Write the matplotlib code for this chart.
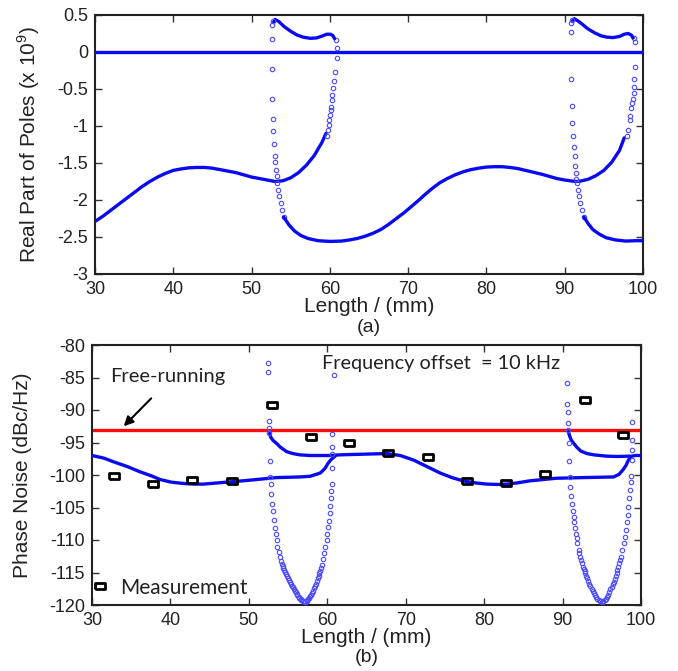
import matplotlib
matplotlib.use("Agg")
import matplotlib.pyplot as plt
from matplotlib.ticker import FormatStrFormatter, MultipleLocator

plt.rcParams["font.family"] = ["Liberation Sans", "DejaVu Sans"]
plt.rcParams["mathtext.fontset"] = "custom"
plt.rcParams["mathtext.rm"] = "Liberation Sans"
plt.rcParams["axes.unicode_minus"] = False

# =========================
# (a) real part of poles (x 1e9)
# =========================

# zero line (dense markers)
zero_x = [30, 100]
zero_y = [0, 0]

# lower-left branch, dense part
a_low1_x = [30, 31, 32, 33, 34, 35, 36, 37, 38, 39, 40, 41, 42, 43, 44, 45, 46, 47, 48, 49,
            50, 51, 52, 53, 54, 55, 56, 57, 58, 59, 59.5]
a_low1_y = [-2.29, -2.22, -2.14, -2.06, -1.98, -1.90, -1.82, -1.75, -1.69, -1.64, -1.60,
            -1.58, -1.565, -1.56, -1.56, -1.57, -1.59, -1.61, -1.63, -1.66, -1.69, -1.71,
            -1.73, -1.75, -1.74, -1.70, -1.63, -1.53, -1.40, -1.22, -1.10]
# rising sparse part near 60 mm
a_rise1_x = [59.6, 59.75, 59.85, 59.9, 60.0, 60.1, 60.15, 60.25, 60.33, 60.42, 60.5, 60.67,
             60.85, 60.85, 60.75]
a_rise1_y = [-1.14, -1.05, -0.99, -0.92, -0.85, -0.78, -0.74, -0.65, -0.58, -0.49, -0.39,
             -0.27, -0.08, 0.05, 0.16]
# upper small arc 1
a_up1_x = [52.8, 53.0, 53.5, 54.2, 55, 55.8, 56.6, 57.5, 58.3, 59.0, 59.6, 60.1, 60.4, 60.6]
a_up1_y = [0.40, 0.44, 0.41, 0.34, 0.28, 0.23, 0.20, 0.185, 0.19, 0.215, 0.24, 0.24, 0.22, 0.18]
# falling sparse part near 52.6 mm
a_fall1_x = [52.75, 52.65, 52.55, 52.55, 52.6, 52.7, 52.8, 52.9, 52.95, 53.0, 53.1, 53.2,
             53.3, 53.4, 53.55, 53.7, 53.9, 54.1]
a_fall1_y = [0.42, 0.37, 0.17, -0.23, -0.64, -0.9, -1.07, -1.24, -1.40, -1.49, -1.59, -1.67,
             -1.77, -1.86, -1.95, -2.04, -2.14, -2.23]
# long lower branch from 54 to 97.6 mm
a_low2_x = [54.1, 54.8, 55.5, 56.3, 57.2, 58.5, 60, 61.5, 62.5, 63.5, 64.5, 65.5, 66.5, 67.5,
            68.5, 69.5, 70.5, 71.5, 72, 73, 74, 75, 76, 77, 78, 79, 80, 81, 82, 83, 84, 85,
            86, 87, 88, 89, 90, 91, 91.5, 92, 93, 94, 95, 96, 97, 97.6]
a_low2_y = [-2.23, -2.34, -2.42, -2.48, -2.52, -2.55, -2.56, -2.555, -2.54, -2.52, -2.49,
            -2.45, -2.40, -2.33, -2.25, -2.17, -2.08, -1.99, -1.94, -1.85, -1.77, -1.71,
            -1.66, -1.62, -1.59, -1.57, -1.555, -1.55, -1.55, -1.56, -1.575, -1.60, -1.625,
            -1.65, -1.68, -1.71, -1.73, -1.745, -1.75, -1.745, -1.72, -1.67, -1.60, -1.49,
            -1.33, -1.16]
a_rise2_x = [97.9, 98.1, 98.3, 98.4, 98.5, 98.6, 98.7, 98.8, 98.85, 98.9, 98.97, 98.97, 98.8]
a_rise2_y = [-1.14, -1.05, -0.92, -0.86, -0.76, -0.69, -0.64, -0.56, -0.47, -0.36, -0.2,
             0.14, 0.185]
a_up2_x = [91.0, 91.2, 91.7, 92.3, 93, 93.8, 94.6, 95.4, 96.2, 97, 97.6, 98.1, 98.5, 98.75]
a_up2_y = [0.42, 0.45, 0.42, 0.37, 0.31, 0.26, 0.22, 0.20, 0.195, 0.21, 0.24, 0.25, 0.23, 0.19]
a_fall2_x = [90.9, 90.75, 90.75, 90.75, 90.9, 90.97, 91.1, 91.2, 91.27, 91.35, 91.4, 91.5,
             91.6, 91.7, 91.85, 92.0, 92.2, 92.45]
a_fall2_y = [0.43, 0.39, 0.27, -0.37, -0.73, -0.96, -1.14, -1.29, -1.41, -1.54, -1.63, -1.71,
             -1.77, -1.86, -1.95, -2.04, -2.14, -2.23]
a_low3_x = [92.45, 93.0, 93.6, 94.4, 95.3, 96.5, 97.8, 99, 100]
a_low3_y = [-2.23, -2.32, -2.40, -2.46, -2.51, -2.54, -2.555, -2.55, -2.55]

# =========================
# (b) phase noise (dBc/Hz)
# =========================
free_running = -93.0

b_low1_x = [30, 31.5, 32.7, 34.5, 36.1, 37.5, 38.7, 40.1, 41.6, 43, 44.2, 45.7, 47.2, 48.7,
            50.1, 51.8, 53.5, 55, 56.5, 57.8, 59.1, 59.7, 60.1, 60.5, 61.0]
b_low1_y = [-97.0, -97.4, -97.95, -98.7, -99.5, -100.1, -100.7, -101.1, -101.3, -101.4,
            -101.4, -101.25, -101.1, -100.95, -100.8, -100.6, -100.4, -100.35, -100.3,
            -100.2, -99.7, -99.0, -98.2, -97.6, -97.1]
b_main_x = [52.65, 52.8, 53.1, 53.5, 54, 54.8, 55.6, 56.5, 57.8, 59.1, 60.3, 61.6, 63, 64.6,
            66, 67.6, 69.3, 71, 72.7, 74.4, 75.9, 77.3, 78.8, 80.3, 81.6, 82.9, 84.3, 85.8,
            87.5, 89.2, 90.9, 92.6, 94.5, 96.5, 97.2, 97.7, 98.1, 98.4, 98.8, 99.3, 100]
b_main_y = [-93.6, -94.2, -94.7, -95.1, -95.7, -96.4, -96.7, -96.9, -97.0, -97.0, -97.0,
            -96.9, -96.85, -96.8, -96.75, -96.7, -97.0, -97.7, -98.7, -99.7, -100.4, -100.9,
            -101.2, -101.4, -101.45, -101.4, -101.2, -100.9, -100.7, -100.5, -100.45, -100.4,
            -100.35, -100.3, -99.9, -99.2, -98.5, -97.7, -97.1, -97.0, -97.0]
b_up2_x = [90.75, 90.9, 91.1, 91.4, 91.8, 92.3, 93.1, 94, 95.6, 97, 98.6]
b_up2_y = [-93.4, -94.0, -94.6, -95.1, -95.7, -96.3, -96.7, -96.9, -97.1, -97.15, -97.1]

# sparse dips (markers get denser towards the bottom)
b_dip1_x = [52.45, 52.45, 52.55, 52.6, 52.6, 52.7, 52.75, 52.8, 52.85, 52.95, 53.05, 53.15,
            53.3, 53.4, 53.55, 53.65, 53.8, 53.95,
            54.1, 54.2, 54.3, 54.4, 54.5, 54.6, 54.75, 54.85, 55.0, 55.1, 55.2, 55.35, 55.45,
            55.6, 55.7, 55.85, 55.95, 56.1, 56.2, 56.35, 56.45, 56.6, 56.7, 56.85, 56.95,
            57.1, 57.2,
            57.35, 57.45, 57.6, 57.7, 57.85, 57.95, 58.1, 58.2, 58.35, 58.45, 58.6, 58.7, 58.8,
            58.9, 59.0, 59.1, 59.2, 59.3, 59.45, 59.6, 59.75, 59.9,
            60.0, 60.1, 60.2, 60.3, 60.4, 60.45, 60.5, 60.55, 60.6, 60.65, 60.65, 60.65, 60.85]
b_dip1_y = [-82.8, -84.2, -91.7, -92.7, -93.5, -97.9, -100.3, -101.4, -102.9, -104.4, -105.5,
            -106.9, -108.2, -109.0, -110.0, -111.0, -111.8, -112.6,
            -113.3, -113.65, -114.0, -114.3, -114.6, -114.9, -115.3, -115.55, -115.9, -116.2,
            -116.5, -116.8, -117.0, -117.3, -117.5, -117.8, -118.0, -118.3, -118.5, -118.7,
            -118.9, -119.1, -119.2, -119.35, -119.4, -119.5, -119.5,
            -119.4, -119.3, -119.1, -118.9, -118.6, -118.4, -118.1, -117.8, -117.4, -117.1,
            -116.7, -116.3, -115.9, -115.5, -115.1, -114.7, -114.25, -113.8, -112.9, -112.0,
            -111.0, -110.0,
            -109.0, -108.0, -107.0, -105.9, -104.8, -103.6, -102.5, -101.4, -98.9, -96.8,
            -95.7, -93.7, -84.6]
b_dip2_x = [90.55, 90.6, 90.65, 90.7, 90.75, 90.8, 90.85, 90.9, 91.0, 91.1, 91.2, 91.3, 91.4,
            91.5, 91.6, 91.7, 91.8, 91.9, 92.05, 92.15, 92.25, 92.35, 92.45, 92.6, 92.7, 92.8,
            92.9, 93.05, 93.15, 93.3, 93.4, 93.55, 93.7, 93.85, 93.95, 94.1, 94.25, 94.45,
            94.6, 94.8, 95.0,
            95.2, 95.35, 95.5, 95.65, 95.8, 95.95, 96.1, 96.25, 96.4, 96.5, 96.65, 96.75,
            96.9, 97.0, 97.1, 97.2, 97.3, 97.4, 97.6, 97.8, 97.95, 98.1,
            98.2, 98.3, 98.4, 98.5, 98.6, 98.7, 98.75, 98.8, 98.8, 98.8, 98.9]
b_dip2_y = [-85.9, -89.0, -90.3, -92.0, -93.0, -95.1, -97.9, -100.3, -101.8, -103.2, -104.4,
            -105.5, -106.4, -107.3, -108.2, -109.0, -109.7, -110.5, -111.5, -112.05, -112.6,
            -113.1, -113.6, -114.1, -114.5, -114.8, -115.1, -115.5, -115.9, -116.3, -116.7,
            -117.1, -117.5, -117.85, -118.2, -118.5, -118.8, -119.0, -119.2, -119.4, -119.5,
            -119.45, -119.3, -119.05, -118.8, -118.4, -118.0, -117.6, -117.2, -116.8, -116.4,
            -115.95, -115.5, -115.05, -114.6, -114.1, -113.6, -113.1, -112.6, -111.5,
            -110.5, -109.5, -108.4,
            -107.3, -106.1, -104.9, -103.6, -102.3, -101.0, -100.2, -97.7, -96.2, -94.6, -91.8]

meas_x = [32.8, 37.8, 42.8, 47.9, 52.9, 57.9, 62.8, 67.8, 72.8, 77.8, 82.8, 87.8, 92.9, 97.7]
meas_y = [-100.1, -101.4, -100.7, -100.9, -89.3, -94.2, -95.1, -96.6, -97.3, -100.9, -101.3,
          -99.8, -88.5, -93.8]

# =========================
# styling
# =========================
LINE_C = "#0a0af0"
MARK_C = "#4b4bff"
TXT_C = "#222222"
rect_marker = [(-1.5, -1), (1.5, -1), (1.5, 1), (-1.5, 1), (-1.5, -1)]


def dense(ax, x, y):
    ax.plot(x, y, color=LINE_C, lw=2.4, solid_capstyle="round", solid_joinstyle="round",
            zorder=3)


def sparse(ax, x, y):
    ax.plot(x, y, ls="none", marker="o", ms=3.2, mfc="none", mec=MARK_C, mew=0.8, zorder=3)


def style_axes(ax, ymin, ymax, ystep):
    ax.set_xlim(30, 100)
    ax.set_ylim(ymin, ymax)
    ax.xaxis.set_major_locator(MultipleLocator(10))
    ax.yaxis.set_major_locator(MultipleLocator(ystep))
    ax.yaxis.set_major_formatter(FormatStrFormatter("%g"))
    ax.tick_params(direction="in", length=5, width=1, top=True, right=True,
                   labelsize=13, labelcolor=TXT_C, pad=5, color="#333333")
    for sp in ax.spines.values():
        sp.set_linewidth(1.5)
        sp.set_color("#222222")


fig = plt.figure(figsize=(6.78, 6.71), dpi=100)

# ---- (a)
ax1 = fig.add_axes([95 / 678, 1 - 274 / 671, 548 / 678, 259 / 671])
dense(ax1, zero_x, zero_y)
dense(ax1, a_low1_x, a_low1_y)
sparse(ax1, a_rise1_x, a_rise1_y)
dense(ax1, a_up1_x, a_up1_y)
sparse(ax1, a_fall1_x, a_fall1_y)
dense(ax1, a_low2_x, a_low2_y)
sparse(ax1, a_rise2_x, a_rise2_y)
dense(ax1, a_up2_x, a_up2_y)
sparse(ax1, a_fall2_x, a_fall2_y)
dense(ax1, a_low3_x, a_low3_y)
style_axes(ax1, -3, 0.5, 0.5)
ax1.set_xlabel("Length / (mm)", fontsize=15, color=TXT_C, labelpad=-1)
ax1.set_ylabel("Real Part of Poles (x 10$^9$)", fontsize=15, color=TXT_C)
ax1.yaxis.set_label_coords(-0.097, 0.5)
ax1.text(0.5, -0.205, "(a)", transform=ax1.transAxes, ha="center", va="center",
         fontsize=14, color=TXT_C)

# ---- (b)
ax2 = fig.add_axes([92 / 678, 1 - 605 / 671, 549 / 678, 260 / 671])
ax2.plot([30, 100], [free_running, free_running], color="#ff0a0a", lw=2.4, zorder=2)
dense(ax2, b_low1_x, b_low1_y)
dense(ax2, b_main_x, b_main_y)
dense(ax2, b_up2_x, b_up2_y)
sparse(ax2, b_dip1_x, b_dip1_y)
sparse(ax2, b_dip2_x, b_dip2_y)
ax2.plot(meas_x, meas_y, ls="none", marker=rect_marker, ms=6.5, mfc="none", mec="black",
         mew=2, zorder=4, label="Measurement")
style_axes(ax2, -120, -80, 5)
ax2.set_xlabel("Length / (mm)", fontsize=15, color=TXT_C, labelpad=-1)
ax2.set_ylabel("Phase Noise (dBc/Hz)", fontsize=15, color=TXT_C)
ax2.yaxis.set_label_coords(-0.109, 0.5)
ax2.text(0.5, -0.2, "(b)", transform=ax2.transAxes, ha="center", va="center",
         fontsize=14, color=TXT_C)

ann_font = ["Lato", "DejaVu Sans"]
ax2.text(32.3, -84.9, "Free-running", ha="left", va="center", fontsize=14.5,
         family=ann_font, color=TXT_C)
ax2.text(59.3, -82.8, "Frequency offset  = 10 kHz", ha="left", va="center", fontsize=14.3,
         family=ann_font, color=TXT_C)
ax2.annotate("", xy=(33.8, free_running + 0.2), xytext=(37.8, -87.9),
             arrowprops=dict(arrowstyle="-|>", color="black", lw=1.5, mutation_scale=14))

leg = ax2.legend(loc="center left", bbox_to_anchor=(0.0, 0.067), frameon=False,
                 handlelength=0.8, handletextpad=0.55, borderpad=0, borderaxespad=0,
                 prop={"family": ann_font, "size": 15})
for t in leg.get_texts():
    t.set_color(TXT_C)

fig.savefig("out.png", dpi=100)
